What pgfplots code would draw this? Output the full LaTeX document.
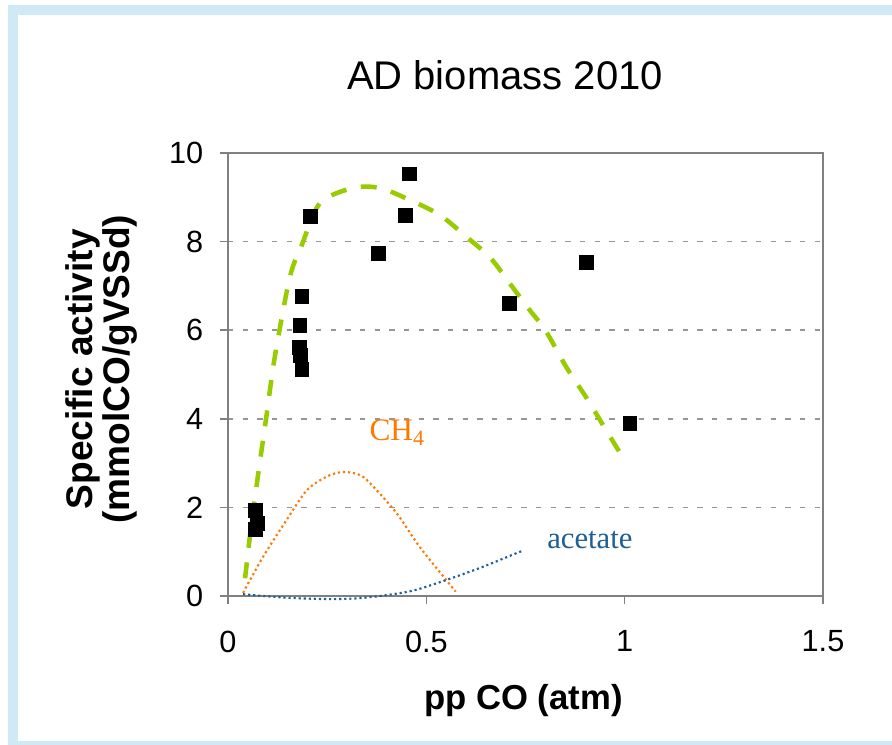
\documentclass[border=0pt]{standalone}
\usepackage{fontspec}
\setmainfont{Liberation Sans}
\newfontfamily\serifft{Liberation Serif}
\usepackage{pgfplots}
\pgfplotsset{compat=1.18}

\definecolor{framecol}{RGB}{208,234,245}
\definecolor{axisgray}{RGB}{128,128,128}
\definecolor{gridgray}{RGB}{150,150,150}
\definecolor{fitgreen}{RGB}{153,204,0}
\definecolor{chorange}{RGB}{255,120,0}
\definecolor{acblue}{RGB}{30,95,150}

\begin{document}
\begin{tikzpicture}
\useasboundingbox (0,0) rectangle (669pt,558pt);
% light blue frame (1px = 0.75pt)
\begin{scope}[x=0.75pt,y=0.75pt]
  \clip (0,0) rectangle (892,744);
  \fill[framecol] (8,-7) rectangle (905,739);
  \fill[white] (18,3) rectangle (900,729);
\end{scope}

\begin{axis}[
    at={(171pt,111pt)}, anchor=south west,
    scale only axis,
    width=446.25pt, height=332.25pt,
    xmin=0, xmax=1.5, ymin=0, ymax=10,
    xtick={0,0.5,1,1.5},
    ytick={0,2,4,6,8,10},
    tick pos=left,
    tick align=outside,
    major tick length=6pt,
    tick style={axisgray, line width=1.1pt},
    axis line style={axisgray, line width=1.5pt},
    ymajorgrids,
    grid style={gridgray, line width=1.1pt, dash pattern=on 4pt off 7pt},
    /pgf/number format/assume math mode=true,
    tick label style={font=\fontsize{23}{26}\selectfont},
    xticklabel style={yshift=-16.5pt},
    yticklabel style={xshift=-9pt},
    title={AD biomass 2010},
    title style={font=\fontsize{30}{36}\selectfont,
        at={(axis description cs:0.4655,1.126)}, anchor=base},
    xlabel={pp CO (atm)},
    xlabel style={font=\bfseries\fontsize{26}{28}\selectfont,
        at={(axis description cs:0.4966,-0.2573)}, anchor=base},
    ylabel={Specific activity\\(mmolCO/gVSSd)},
    ylabel style={font=\bfseries\fontsize{27.8}{28}\selectfont, align=center,
        at={(axis description cs:-0.213,0.512)}, anchor=center},
    clip=false,
]
% measured activity
\addplot[only marks, mark=square*, mark size=5.2pt, black] coordinates {
    (0.068,1.94) (0.073,1.65) (0.068,1.51)
    (0.186,6.77) (0.181,6.12) (0.180,5.62) (0.182,5.44) (0.186,5.12)
    (0.207,8.58) (0.378,7.74) (0.446,8.60) (0.456,9.53)
    (0.708,6.61) (0.904,7.54) (1.013,3.90)
};
% fitted curve
\addplot[fitgreen, line width=3.4pt, dash pattern=on 12pt off 11pt, smooth, tension=0.5] coordinates {
    (0.043,0.40) (0.060,1.70) (0.080,3.00) (0.098,4.13) (0.118,5.40)
    (0.156,7.20) (0.186,7.92) (0.232,8.87) (0.315,9.21) (0.383,9.21)
    (0.458,8.94) (0.534,8.60) (0.602,8.10) (0.660,7.65) (0.710,7.06)
    (0.760,6.46) (0.800,6.00) (0.854,5.15) (0.904,4.47) (0.950,3.79)
    (0.987,3.25)
};
% CH4
\addplot[chorange, line width=1.6pt, dash pattern=on 1.6pt off 2.2pt, smooth, tension=0.5] coordinates {
    (0.038,0.07) (0.088,0.88) (0.148,1.72) (0.199,2.39) (0.250,2.70)
    (0.290,2.80) (0.330,2.74) (0.358,2.55) (0.425,1.87) (0.484,1.10)
    (0.574,0.10)
};
% acetate
\addplot[acblue, line width=1.6pt, dash pattern=on 1.6pt off 2.2pt, smooth, tension=0.5] coordinates {
    (0.038,0.04) (0.150,-0.04) (0.257,-0.07) (0.330,-0.05) (0.400,0.02)
    (0.470,0.13) (0.550,0.36) (0.640,0.65) (0.728,0.97) (0.743,1.02)
};
\node[anchor=base west, chorange, font=\serifft\fontsize{23.5}{26}\selectfont]
    at (axis cs:0.345,3.52) {CH\textsubscript{4}};
\node[anchor=base west, acblue, font=\serifft\fontsize{23}{26}\selectfont]
    at (axis cs:0.793,1.08) {acetate};
\end{axis}
\end{tikzpicture}
\end{document}
